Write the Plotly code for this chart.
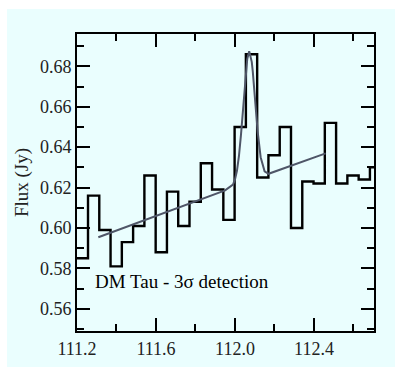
import plotly.graph_objects as go

# Channel centre frequencies (GHz) and measured flux (Jy)
freq = [111.2272, 111.2843, 111.3414, 111.3985, 111.4556, 111.5127, 111.5698,
        111.6269, 111.6840, 111.7411, 111.7982, 111.8554, 111.9125, 111.9696,
        112.0267, 112.0838, 112.1409, 112.1980, 112.2551, 112.3122, 112.3693,
        112.4264, 112.4835, 112.5406, 112.5977, 112.6548, 112.7119]
flux = [0.585, 0.616, 0.599, 0.581, 0.593, 0.601, 0.626, 0.588, 0.618, 0.601,
        0.613, 0.632, 0.619, 0.604, 0.650, 0.686, 0.625, 0.636, 0.650, 0.600,
        0.623, 0.622, 0.652, 0.622, 0.626, 0.624, 0.630]

# Fitted model curve
fit_freq = [111.308, 111.95, 111.99, 112.00, 112.01, 112.02, 112.03, 112.04,
            112.05, 112.062, 112.072, 112.085, 112.09, 112.10, 112.11, 112.115,
            112.13, 112.15, 112.17, 112.459]
fit_flux = [0.5954, 0.6186, 0.6215, 0.6240, 0.6283, 0.6355, 0.6457, 0.6583,
            0.6715, 0.6836, 0.6875, 0.6822, 0.6776, 0.6657, 0.6532, 0.6476,
            0.6350, 0.6280, 0.6268, 0.6369]

x_ticks = [111.2, 111.6, 112.0, 112.4]
x_labels = ["111.2", "111.6", "112.0", "112.4"]
y_ticks = [0.56, 0.58, 0.60, 0.62, 0.64, 0.66, 0.68]
y_labels = ["0.56", "0.58", "0.60", "0.62", "0.64", "0.66", "0.68"]

# bin edges from channel centres
half = (freq[1] - freq[0]) / 2
left_edges = [f - half for f in freq]
step_x = left_edges + [freq[-1] + half]
step_y = flux + [flux[-1]]

BG = "#EAFEFE"
FONT = "Liberation Serif"

fig = go.Figure()
fig.add_trace(go.Scatter(x=step_x, y=step_y, mode="lines", line_shape="hv",
                         line=dict(color="black", width=2.4), showlegend=False,
                         hoverinfo="skip"))
fig.add_trace(go.Scatter(x=fit_freq, y=fit_flux, mode="lines",
                         line=dict(color="#4f5668", width=2), showlegend=False,
                         hoverinfo="skip"))

L, R, T, B = 77, 21, 34, 36
W, H = 395, 367
pw, ph = W - L - R, H - T - B

def px(xp):
    return (xp - L) / pw

def py(yp):
    return (H - B - yp) / ph

fig.add_shape(type="rect", xref="paper", yref="paper", x0=px(-20), x1=px(7),
              y0=py(H + 20), y1=py(-20), fillcolor="white", line_width=0, layer="below")
fig.add_shape(type="rect", xref="paper", yref="paper", x0=px(-20), x1=px(W + 20),
              y0=py(9), y1=py(-20), fillcolor="white", line_width=0, layer="below")

fig.add_annotation(x=111.28, y=0.5735, xref="x", yref="y", text="DM Tau - 3σ detection",
                   showarrow=False, xanchor="left", yanchor="middle",
                   font=dict(family=FONT, size=19, color="black"))

axis_common = dict(showline=True, linecolor="black", linewidth=2, mirror="ticks",
                   ticks="inside", ticklen=13, tickwidth=2, tickcolor="black",
                   showgrid=False, zeroline=False,
                   tickfont=dict(family=FONT, size=18, color="#222"))

fig.update_xaxes(range=[111.2, 112.704], tickvals=x_ticks, ticktext=x_labels,
                 minor=dict(dtick=0.2, tick0=111.2, ticks="inside", ticklen=7,
                            tickwidth=2, tickcolor="black", showgrid=False),
                 **axis_common)
fig.update_yaxes(range=[0.549, 0.696], tickvals=y_ticks, ticktext=y_labels,
                 minor=dict(dtick=0.01, tick0=0.55, ticks="inside", ticklen=7,
                            tickwidth=2, tickcolor="black", showgrid=False),
                 title=dict(text="Flux (Jy)", font=dict(family=FONT, size=19, color="#222"),
                            standoff=6),
                 **axis_common)

fig.update_layout(width=W, height=H, margin=dict(l=L, r=R, t=T, b=B, autoexpand=False),
                  paper_bgcolor=BG, plot_bgcolor=BG)

fig.write_html("out.html")
